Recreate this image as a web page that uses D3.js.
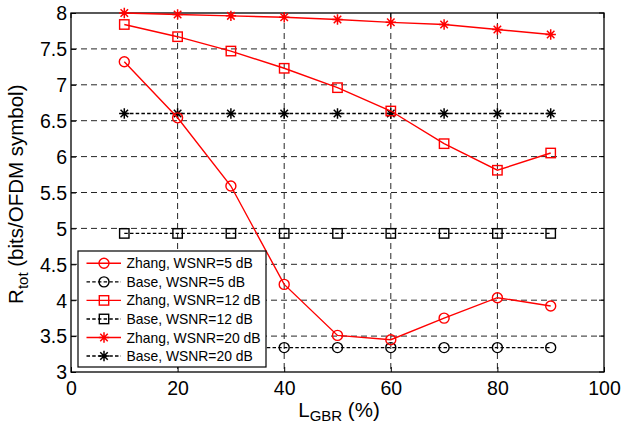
<!DOCTYPE html>
<html>
<head>
<meta charset="utf-8">
<script src="https://cdn.jsdelivr.net/npm/d3@7"></script>
<style>
  html, body { margin: 0; padding: 0; background: #fff; }
  svg { display: block; font-family: "Liberation Sans", Arial, sans-serif; }
</style>
</head>
<body>
<svg id="chart" width="621" height="423"></svg>
<script>
// Guard-band ratio values (%) on the x axis
const lgbr = [10, 20, 30, 40, 50, 60, 70, 80, 90];

// Total rate (bits/OFDM symbol) per scheme and WSNR
const zhang5  = [7.32, 6.54, 5.59, 4.22, 3.51, 3.45, 3.75, 4.035, 3.92];
const base5   = [3.34, 3.34, 3.34, 3.34, 3.34, 3.34, 3.34, 3.34, 3.34];
const zhang12 = [7.84, 7.67, 7.47, 7.23, 6.96, 6.635, 6.18, 5.81, 6.05];
const base12  = [4.93, 4.93, 4.93, 4.93, 4.93, 4.93, 4.93, 4.93, 4.93];
const zhang20 = [8.00, 7.98, 7.96, 7.94, 7.91, 7.87, 7.84, 7.77, 7.70];
const base20  = [6.60, 6.60, 6.60, 6.60, 6.60, 6.60, 6.60, 6.60, 6.60];

const xTicks = [0, 20, 40, 60, 80, 100];
const yTicks = [3, 3.5, 4, 4.5, 5, 5.5, 6, 6.5, 7, 7.5, 8];

const seriesNames = [
  "Zhang, WSNR=5 dB", "Base, WSNR=5 dB",
  "Zhang, WSNR=12 dB", "Base, WSNR=12 dB",
  "Zhang, WSNR=20 dB", "Base, WSNR=20 dB"
];

const series = [
  { name: seriesNames[0], values: zhang5,  color: "#ff0000", marker: "circle",   dashed: false },
  { name: seriesNames[1], values: base5,   color: "#000000", marker: "circle",   dashed: true  },
  { name: seriesNames[2], values: zhang12, color: "#ff0000", marker: "square",   dashed: false },
  { name: seriesNames[3], values: base12,  color: "#000000", marker: "square",   dashed: true  },
  { name: seriesNames[4], values: zhang20, color: "#ff0000", marker: "asterisk", dashed: false },
  { name: seriesNames[5], values: base20,  color: "#000000", marker: "asterisk", dashed: true  }
];

const svg = d3.select("#chart");
svg.append("rect").attr("width", 621).attr("height", 423).attr("fill", "#fff");

const pL = 71, pR = 604, pT = 13, pB = 372;
const x = d3.scaleLinear().domain([0, 100]).range([pL, pR]);
const y = d3.scaleLinear().domain([3, 8]).range([pB, pT]);

// Dashed grid
const grid = svg.append("g");
grid.selectAll("line.gx").data(xTicks.slice(1, -1)).join("line")
  .attr("x1", d => x(d)).attr("x2", d => x(d))
  .attr("y1", pT).attr("y2", pB)
  .attr("stroke", "#262626").attr("stroke-width", 1).attr("stroke-dasharray", "6,4");
grid.selectAll("line.gy").data(yTicks.slice(1, -1)).join("line")
  .attr("y1", d => y(d)).attr("y2", d => y(d))
  .attr("x1", pL).attr("x2", pR)
  .attr("stroke", "#262626").attr("stroke-width", 1).attr("stroke-dasharray", "6,4");

// Axes with inward ticks
const fontSize = 19.5;
const xAxis = d3.axisBottom(x).tickValues(xTicks).tickSize(-5).tickPadding(9).tickFormat(d3.format("d"));
const yAxis = d3.axisLeft(y).tickValues(yTicks).tickSize(-5).tickPadding(4).tickFormat(d => d3.format("")(d));

const gx = svg.append("g").attr("transform", `translate(0,${pB})`).call(xAxis);
const gy = svg.append("g").attr("transform", `translate(${pL},0)`).call(yAxis);
[gx, gy].forEach(g => {
  g.select(".domain").remove();
  g.selectAll(".tick line").attr("stroke", "#000");
  g.selectAll(".tick text").attr("fill", "#000")
    .style("font-size", fontSize + "px").style("font-family", "Liberation Sans, Arial, sans-serif");
});
gy.selectAll(".tick text").attr("dy", "0.35em");
gx.selectAll(".tick text").attr("dy", "0.72em");

// Top/right ticks
svg.append("g").selectAll("line").data(xTicks).join("line")
  .attr("x1", d => x(d)).attr("x2", d => x(d)).attr("y1", pT).attr("y2", pT + 5).attr("stroke", "#000");
svg.append("g").selectAll("line").data(yTicks).join("line")
  .attr("y1", d => y(d)).attr("y2", d => y(d)).attr("x1", pR).attr("x2", pR - 5).attr("stroke", "#000");

// Plot box
svg.append("rect").attr("x", pL).attr("y", pT)
  .attr("width", pR - pL).attr("height", pB - pT)
  .attr("fill", "none").attr("stroke", "#000").attr("stroke-width", 1.3);

// Marker drawing
function drawMarker(g, type, cx, cy, color) {
  if (type === "circle") {
    g.append("circle").attr("cx", cx).attr("cy", cy).attr("r", 5)
      .attr("fill", "none").attr("stroke", color).attr("stroke-width", 1.4);
  } else if (type === "square") {
    g.append("rect").attr("x", cx - 4.7).attr("y", cy - 4.7).attr("width", 9.4).attr("height", 9.4)
      .attr("fill", "none").attr("stroke", color).attr("stroke-width", 1.4);
  } else {
    const r = 5.2, d = r * 0.72;
    const p = `M${cx - r},${cy}L${cx + r},${cy}M${cx},${cy - r}L${cx},${cy + r}` +
              `M${cx - d},${cy - d}L${cx + d},${cy + d}M${cx - d},${cy + d}L${cx + d},${cy - d}`;
    g.append("path").attr("d", p).attr("stroke", color).attr("stroke-width", 1.5).attr("fill", "none");
  }
}

const line = d3.line().x((d, i) => x(lgbr[i])).y(d => y(d));
const plot = svg.append("g");
// Base series first, Zhang series on top
const order = [1, 3, 5, 0, 2, 4];
order.forEach(k => {
  const s = series[k];
  const g = plot.append("g");
  g.append("path").attr("d", line(s.values))
    .attr("fill", "none").attr("stroke", s.color)
    .attr("stroke-width", s.dashed ? 1.3 : 1.4)
    .attr("stroke-dasharray", s.dashed ? "3.5,2.2" : null);
  s.values.forEach((v, i) => drawMarker(g, s.marker, x(lgbr[i]), y(v), s.color));
});

// Legend
const lg = svg.append("g");
lg.append("rect").attr("x", 78).attr("y", 251).attr("width", 188).attr("height", 116)
  .attr("fill", "#fff").attr("stroke", "#000").attr("stroke-width", 1.2);
series.forEach((s, i) => {
  const cy = 263.3 + i * 18.55;
  lg.append("line").attr("x1", 86.5).attr("x2", 121).attr("y1", cy).attr("y2", cy)
    .attr("stroke", s.color).attr("stroke-width", 1.4)
    .attr("stroke-dasharray", s.dashed ? "3.5,2.2" : null);
  drawMarker(lg, s.marker, 104, cy, s.color);
  lg.append("text").attr("x", 126.5).attr("y", cy).attr("dy", "0.36em")
    .style("font-size", "13.9px").attr("fill", "#000").text(s.name);
});

// Axis labels
const xl = svg.append("text").attr("x", 339).attr("y", 416.5).attr("text-anchor", "middle")
  .style("font-size", "20.5px").attr("fill", "#000");
xl.append("tspan").text("L");
xl.append("tspan").attr("dy", 4.5).style("font-size", "15px").text("GBR");
xl.append("tspan").attr("dy", -4.5).text(" (%)");

const yl = svg.append("text").attr("transform", `translate(23.3,194.2) rotate(-90)`)
  .attr("text-anchor", "middle").style("font-size", "20.5px").attr("fill", "#000");
yl.append("tspan").text("R");
yl.append("tspan").attr("dy", 4.5).style("font-size", "15px").text("tot");
yl.append("tspan").attr("dy", -4.5).text(" (bits/OFDM symbol)");
</script>
</body>
</html>
